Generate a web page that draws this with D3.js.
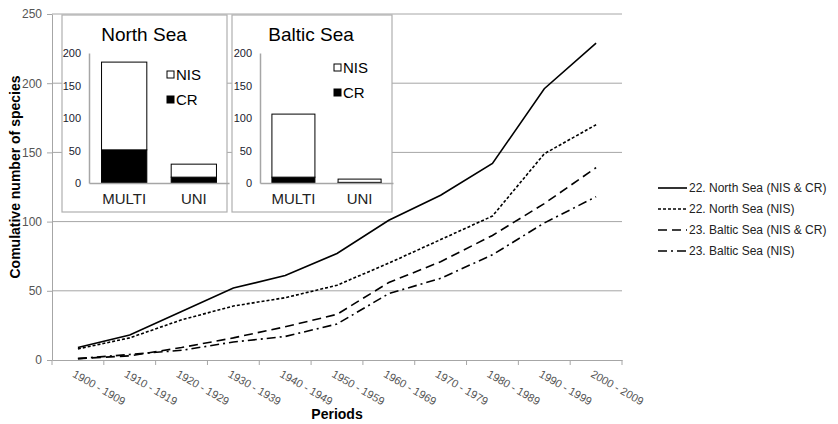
<!DOCTYPE html>
<html>
<head>
<meta charset="utf-8">
<script src="https://cdn.jsdelivr.net/npm/d3@7"></script>
<style>
  body { margin: 0; background: #fff; }
  svg { font-family: "Liberation Sans", Arial, sans-serif; }
</style>
</head>
<body>
<div id="chart"></div>
<script>
// Main chart data
let periods = ["1900 - 1909", "1910 - 1919", "1920 - 1929", "1930 - 1939", "1940 - 1949",
    "1950 - 1959", "1960 - 1969", "1970 - 1979", "1980 - 1989", "1990 - 1999", "2000 - 2009"];
let north_all = [9, 18, 35, 52, 61, 77, 101, 119, 142, 196, 229];
let north_nis = [8, 16, 29, 39, 45, 54, 70, 87, 104, 149, 170];
let baltic_all = [1, 3, 9, 16, 24, 33, 56, 71, 90, 113, 139];
let baltic_nis = [1, 4, 7, 13, 17, 26, 48, 59, 76, 99, 118];
let y_ticks = [0, 50, 100, 150, 200, 250];

// Inset data
let inset_cats = ["MULTI", "UNI"];
let inset_ticks = [0, 50, 100, 150, 200];
let north_cr = [51, 9];
let north_nis_only = [135, 20];
let baltic_cr = [9, 1];
let baltic_nis_only = [97, 5];

let series = [
    { name: "22. North Sea (NIS & CR)", values: north_all, dash: null },
    { name: "22. North Sea (NIS)", values: north_nis, dash: "3,2" },
    { name: "23. Baltic Sea (NIS & CR)", values: baltic_all, dash: "9,5" },
    { name: "23. Baltic Sea (NIS)", values: baltic_nis, dash: "9,4,2,4" }
];

let svg = d3.select("#chart")
    .append("svg")
        .attr("width", 838)
        .attr("height", 424);

let plot_left = 52, plot_right = 622, plot_top = 14, plot_bottom = 360;

// Define scales.
let x_scale = d3.scaleBand()
    .domain(periods)
    .range([plot_left, plot_right]);
let y_scale = d3.scaleLinear()
    .domain([0, 250])
    .range([plot_bottom, plot_top]);

// Grid lines.
svg.append("g")
    .selectAll("line")
    .data(y_ticks.filter(d => d > 0))
    .join("line")
        .attr("x1", plot_left)
        .attr("x2", plot_right)
        .attr("y1", d => y_scale(d))
        .attr("y2", d => y_scale(d))
        .attr("stroke", "#a6a6a6")
        .attr("stroke-width", 1);

// Y axis.
let y_axis = svg.append("g")
    .attr("transform", "translate(" + plot_left + ",0)")
    .call(d3.axisLeft(y_scale).tickValues(y_ticks).tickSize(5).tickSizeOuter(0).tickPadding(5));
y_axis.select(".domain").attr("stroke", "#a6a6a6");
y_axis.selectAll(".tick line").attr("stroke", "#a6a6a6");
y_axis.selectAll("text").attr("font-size", 12).attr("fill", "#555").attr("font-family", "Liberation Sans, Arial");

// X axis with ticks between categories.
let x_axis = svg.append("g")
    .attr("transform", "translate(0," + plot_bottom + ")")
    .call(d3.axisBottom(x_scale).tickSize(0).tickSizeOuter(0));
x_axis.select(".domain").attr("stroke", "#a6a6a6");
x_axis.selectAll("text")
    .attr("y", 0)
    .attr("dy", "0.75em")
    .attr("text-anchor", "start")
    .attr("transform", "translate(-2,9) rotate(30)")
    .attr("font-size", 11)
    .attr("fill", "#555")
    .attr("font-family", "Liberation Sans, Arial");
x_axis.append("g")
    .selectAll("line")
    .data(periods.map(d => x_scale(d)).concat([plot_right]))
    .join("line")
        .attr("x1", d => d)
        .attr("x2", d => d)
        .attr("y1", 0)
        .attr("y2", 5)
        .attr("stroke", "#a6a6a6");

// Axis titles.
svg.append("text")
    .attr("x", (plot_left + plot_right) / 2)
    .attr("y", 419)
    .attr("text-anchor", "middle")
    .attr("font-size", 14)
    .attr("font-weight", "bold")
    .text("Periods");
svg.append("text")
    .attr("transform", "translate(20," + 177 + ") rotate(-90)")
    .attr("text-anchor", "middle")
    .attr("font-size", 14)
    .attr("font-weight", "bold")
    .text("Comulative number of species");

// Draw the lines.
let line = d3.line()
    .x((d, i) => x_scale(periods[i]) + x_scale.bandwidth() / 2)
    .y(d => y_scale(d));
series.forEach(function(s) {
    svg.append("path")
        .datum(s.values)
        .attr("fill", "none")
        .attr("stroke", "#000")
        .attr("stroke-width", 1.6)
        .attr("stroke-dasharray", s.dash)
        .attr("d", line);
});

// Legend.
let legend = svg.append("g");
series.forEach(function(s, i) {
    let ly = 188 + i * 21;
    legend.append("line")
        .attr("x1", 658)
        .attr("x2", 687)
        .attr("y1", ly)
        .attr("y2", ly)
        .attr("stroke", "#000")
        .attr("stroke-width", 1.6)
        .attr("stroke-dasharray", s.dash);
    legend.append("text")
        .attr("x", 689)
        .attr("y", ly + 4)
        .attr("font-size", 12)
        .attr("fill", "#222")
        .text(s.name);
});

/// Draws one stacked bar inset.
function draw_inset(box, axis_x, range_right, title, title_x, legend_x, legend_y, cr, nis) {
    let g = svg.append("g");
    g.append("rect")
        .attr("x", box[0])
        .attr("y", box[1])
        .attr("width", box[2] - box[0])
        .attr("height", box[3] - box[1])
        .attr("fill", "#fff")
        .attr("stroke", "#b0b0b0")
        .attr("stroke-width", 1.2);

    let ix = d3.scaleBand()
        .domain(inset_cats)
        .range([axis_x, range_right])
        .paddingInner(0.35)
        .paddingOuter(0.18);
    let iy = d3.scaleLinear()
        .domain([0, 200])
        .range([183, 53]);

    // Bars: CR at the bottom, NIS on top.
    g.selectAll(".cr")
        .data(cr)
        .join("rect")
            .attr("x", (d, i) => ix(inset_cats[i]))
            .attr("y", d => iy(d))
            .attr("width", ix.bandwidth())
            .attr("height", d => iy(0) - iy(d))
            .attr("fill", "#000")
            .attr("stroke", "#000");
    g.selectAll(".nis")
        .data(nis)
        .join("rect")
            .attr("x", (d, i) => ix(inset_cats[i]))
            .attr("y", (d, i) => iy(cr[i] + d))
            .attr("width", ix.bandwidth())
            .attr("height", (d, i) => iy(cr[i]) - iy(cr[i] + d))
            .attr("fill", "#fff")
            .attr("stroke", "#000");

    let ya = g.append("g")
        .attr("transform", "translate(" + axis_x + ",0)")
        .call(d3.axisLeft(iy).tickValues(inset_ticks).tickSize(0).tickPadding(8));
    ya.select(".domain").attr("stroke", "#a6a6a6").attr("stroke-width", 1.5);
    ya.selectAll("text").attr("font-size", 11).attr("fill", "#1a1a2e").attr("font-family", "Liberation Sans, Arial");

    let xa = g.append("g")
        .attr("transform", "translate(0,183)")
        .call(d3.axisBottom(ix).tickSize(0).tickPadding(10).tickSizeOuter(0));
    xa.select(".domain").attr("stroke", "#a6a6a6").attr("stroke-width", 1.5);
    xa.selectAll("text").attr("font-size", 15).attr("fill", "#222").attr("font-family", "Liberation Sans, Arial");

    g.append("text")
        .attr("x", title_x)
        .attr("y", 41)
        .attr("text-anchor", "middle")
        .attr("font-size", 19)
        .text(title);

    [["NIS", "#fff"], ["CR", "#000"]].forEach(function(item, i) {
        let ly = legend_y + i * 25;
        g.append("rect")
            .attr("x", legend_x)
            .attr("y", ly)
            .attr("width", 7)
            .attr("height", 7)
            .attr("fill", item[1])
            .attr("stroke", "#000");
        g.append("text")
            .attr("x", legend_x + 9)
            .attr("y", ly + 9)
            .attr("font-size", 15)
            .text(item[0]);
    });
}

draw_inset([62, 15, 227, 212], 89, 229, "North Sea", 144, 167, 71, north_cr, north_nis_only);
draw_inset([232, 15, 392, 212], 260, 393, "Baltic Sea", 311, 334, 64, baltic_cr, baltic_nis_only);
</script>
</body>
</html>
